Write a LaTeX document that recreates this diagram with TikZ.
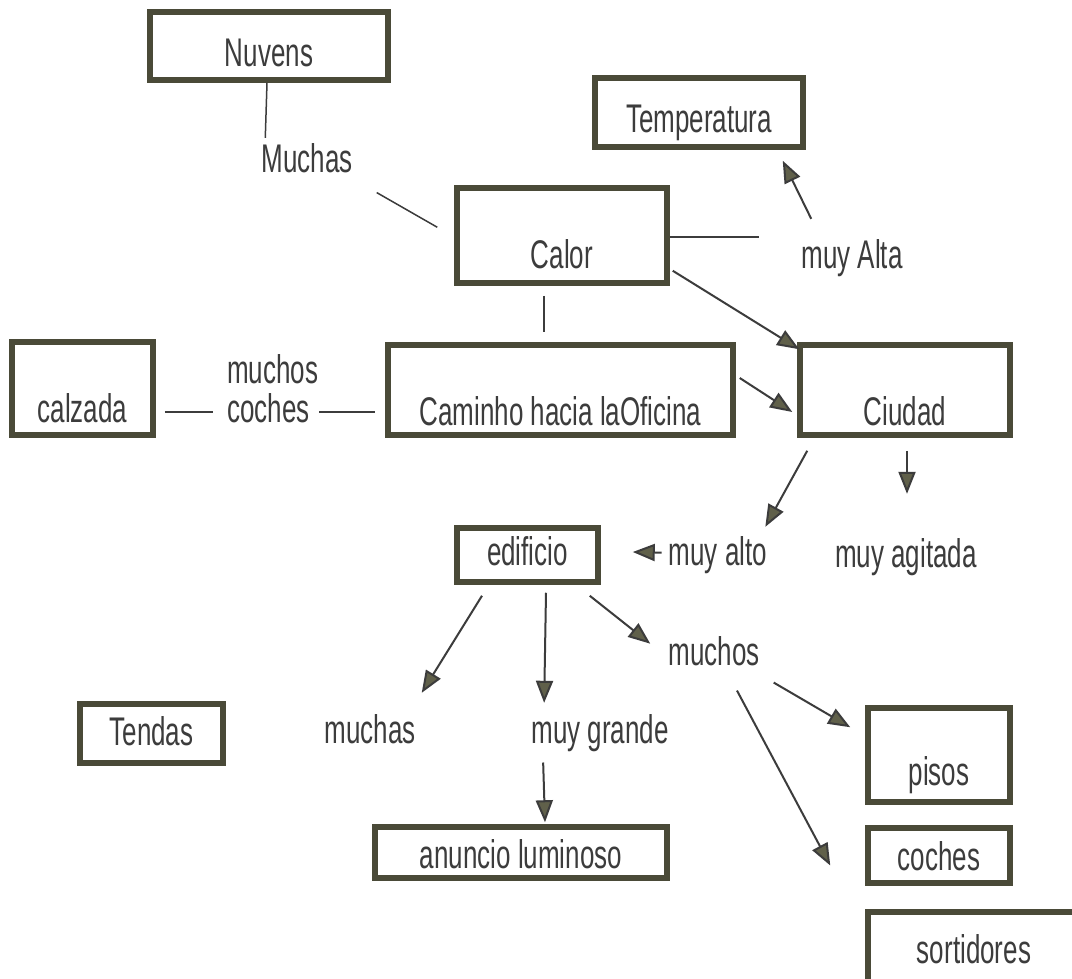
\documentclass[tikz,border=0pt]{standalone}
\usepackage{fontspec}
\setmainfont{Liberation Sans}[FakeStretch=0.65]
\usetikzlibrary{arrows.meta,calc}
\definecolor{boxline}{RGB}{74,74,56}
\definecolor{ink}{RGB}{60,60,60}
\definecolor{tipfill}{RGB}{96,96,74}
\begin{document}
\begin{tikzpicture}[x=1pt,y=-1pt,
  font=\fontsize{40}{39}\selectfont,
  box/.style={draw=boxline, line width=5.5pt, inner sep=0pt, text=ink, anchor=base},
  lbl/.style={inner sep=0pt, text=ink, anchor=base},
  link/.style={draw=ink, line width=2pt},
  thinlink/.style={draw=ink, line width=1.5pt},
  arr/.style={link, -{Triangle[length=22pt,width=17pt,fill=tipfill]}}]
\useasboundingbox[fill=white] (0,0) rectangle (1072,979);

% concept boxes (placed by text baseline)
\node[box, minimum width=238pt, text height=55pt, text depth=13pt] (nuvens) at (269,67) {Nuvens};
\node[box, minimum width=208pt, text height=55pt, text depth=14pt] (temp) at (699,133) {Temperatura};
\node[box, minimum width=210pt, text height=80pt, text depth=15pt] (calor) at (562,268) {Calor};
\node[box, minimum width=141pt, text height=80pt, text depth=13pt] (calzada) at (82.5,422) {calzada};
\node[box, minimum width=345pt, text height=80pt, text depth=10pt] (caminho) at (560.5,425) {Caminho hacia laOficina};
\node[box, minimum width=210pt, text height=80pt, text depth=10pt] (ciudad) at (905,425) {Ciudad};
\node[box, minimum width=141pt, text height=37pt, text depth=17pt] (edif) at (527.5,565) {edificio};
\node[box, minimum width=143pt, text height=41pt, text depth=18pt] (tendas) at (151.5,745) {Tendas};
\node[box, minimum width=292pt, text height=41pt, text depth=10pt] (anuncio) at (521,868) {anuncio luminoso};
\node[box, minimum width=142pt, text height=77pt, text depth=17pt] (pisos) at (939,785) {pisos};
\node[box, minimum width=142pt, text height=42pt, text depth=13pt] (coches) at (939,870) {coches};
\node[box, minimum width=212pt, text height=51pt, text depth=37pt] (sort) at (974,963) {sortidores};

% free labels
\node[lbl] (muchasA) at (307,173) {Muchas};
\node[lbl] (alta) at (852,268) {muy Alta};
\node[lbl, align=left, anchor=base west] (mcoches) at (227,422) {muchos\\coches};
\node[lbl] (alto) at (718,565) {muy alto};
\node[lbl] (agitada) at (906,567) {muy agitada};
\node[lbl] (muchos) at (714,665) {muchos};
\node[lbl] (muchas) at (370,743) {muchas};
\node[lbl] (grande) at (600,743) {muy grande};

% plain links
\draw[thinlink] ($(nuvens.south)+(-2,0)$) -- ($(muchasA.north west)+(4,-6)$);
\draw[thinlink] ($(muchasA.south east)+(24,19)$) -- ($(calor.north west)+(-17,42)$);
\draw[link] ($(calor.east)+(0,2)$) -- ($(alta.west |- calor.east)+(-42,2)$);
\draw[thinlink] ($(calor.south)+(-18,10)$) -- ($(caminho.north)+(-16.5,-10)$);
\draw[link] ($(calzada.east)+(9,23.5)$) -- ($(mcoches.west |- calzada.east)+(-14,23.5)$);
\draw[link] ($(caminho.west)+(-66,22)$) -- ($(caminho.west)+(-10,22)$);

% arrows
\draw[arr] ($(alta.north west)+(10,-20)$) -- ($(temp.south east)+(-23,11)$);
\draw[arr] ($(calor.south east)+(3,-15)$) -- ($(ciudad.north west)+(2,7)$);
\draw[arr] ($(caminho.east)+(4,-12)$) -- ($(ciudad.west)+(-5,22)$);
\draw[arr] ($(ciudad.south west)+(10,13)$) -- ($(alto.north east)+(-2,-9)$);
\draw[arr] ($(ciudad.south)+(2,13)$) -- ($(agitada.north)+(1,-44)$);
\draw[arr] ($(alto.west)+(-7,-2)$) -- ($(edif.east)+(32,-3)$);
\draw[arr] ($(edif.south)+(-45.5,11)$) -- ($(muchas.north east)+(6,-21)$);
\draw[arr] ($(edif.south)+(18.5,8)$) -- ($(grande.north west)+(13,-11)$);
\draw[arr] ($(edif.south east)+(-11,11)$) -- ($(muchos.west)+(-18,-7)$);
\draw[arr] ($(grande.south west)+(12,11)$) -- ($(anuncio.north)+(24,-2)$);
\draw[arr] ($(muchos.south east)+(14,17)$) -- ($(pisos.north west)+(-15,22)$);
\draw[arr] ($(muchos.south)+(23,25)$) -- ($(coches.west)+(-35,10)$);
\end{tikzpicture}
\end{document}
